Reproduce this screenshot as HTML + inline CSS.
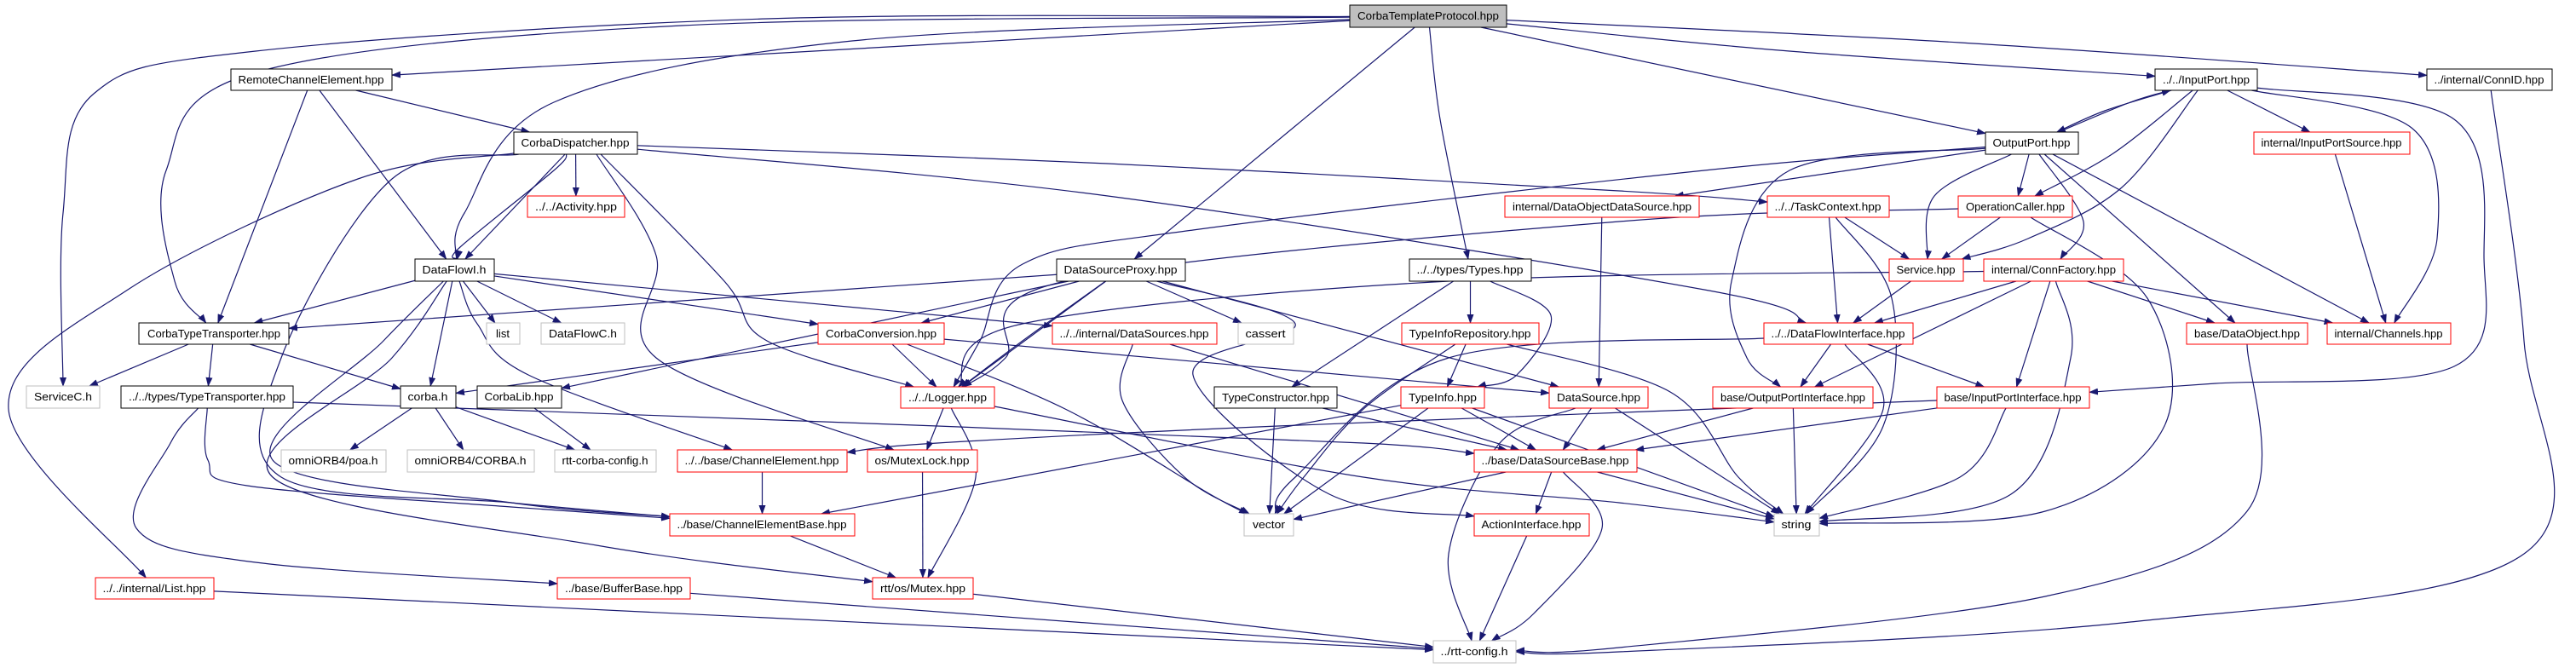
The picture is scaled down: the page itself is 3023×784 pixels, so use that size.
<!DOCTYPE html>
<html><head><meta charset="utf-8"><style>
html,body{margin:0;padding:0;background:#fff;}
svg{display:block;}
text{font-family:"Liberation Sans",Arial,sans-serif;font-size:13px;fill:#000;}
</style></head><body>
<svg id="g" width="3023" height="784" viewBox="0 0 3023 784" xmlns="http://www.w3.org/2000/svg">
<defs><marker id="a" markerWidth="11" markerHeight="8" refX="10" refY="4" orient="auto" markerUnits="userSpaceOnUse"><path d="M0,0 L11,4 L0,8 z" fill="#191970"/></marker></defs>
<g id="edges" fill="none" stroke="#191970" stroke-width="1.2"></g>
<g id="nodes">
<rect x="1584" y="6" width="184" height="26" fill="#bfbfbf" stroke="#000"/><text x="1676" y="23" text-anchor="middle" textLength="166" lengthAdjust="spacingAndGlyphs">CorbaTemplateProtocol.hpp</text>
<rect x="271" y="81" width="189" height="25" fill="#fff" stroke="#000"/><text x="365" y="98" text-anchor="middle" textLength="171" lengthAdjust="spacingAndGlyphs">RemoteChannelElement.hpp</text>
<rect x="603" y="155" width="145" height="26" fill="#fff" stroke="#000"/><text x="675" y="172" text-anchor="middle" textLength="127" lengthAdjust="spacingAndGlyphs">CorbaDispatcher.hpp</text>
<rect x="619" y="230" width="114" height="25" fill="#fff" stroke="#f00"/><text x="676" y="247" text-anchor="middle" textLength="96" lengthAdjust="spacingAndGlyphs">../../Activity.hpp</text>
<rect x="487" y="304" width="93" height="26" fill="#fff" stroke="#000"/><text x="533" y="321" text-anchor="middle" textLength="75" lengthAdjust="spacingAndGlyphs">DataFlowI.h</text>
<rect x="1240" y="304" width="151" height="26" fill="#fff" stroke="#000"/><text x="1315" y="321" text-anchor="middle" textLength="133" lengthAdjust="spacingAndGlyphs">DataSourceProxy.hpp</text>
<rect x="1654" y="304" width="143" height="26" fill="#fff" stroke="#000"/><text x="1725" y="321" text-anchor="middle" textLength="125" lengthAdjust="spacingAndGlyphs">../../types/Types.hpp</text>
<rect x="163" y="379" width="176" height="25" fill="#fff" stroke="#000"/><text x="251" y="396" text-anchor="middle" textLength="156" lengthAdjust="spacingAndGlyphs">CorbaTypeTransporter.hpp</text>
<rect x="571" y="379" width="39" height="25" fill="#fff" stroke="#bfbfbf"/><text x="590" y="396" text-anchor="middle">list</text>
<rect x="635" y="379" width="98" height="25" fill="#fff" stroke="#bfbfbf"/><text x="684" y="396" text-anchor="middle" textLength="80" lengthAdjust="spacingAndGlyphs">DataFlowC.h</text>
<rect x="960" y="379" width="148" height="25" fill="#fff" stroke="#f00"/><text x="1034" y="396" text-anchor="middle" textLength="130" lengthAdjust="spacingAndGlyphs">CorbaConversion.hpp</text>
<rect x="1235" y="379" width="193" height="25" fill="#fff" stroke="#f00"/><text x="1331" y="396" text-anchor="middle" textLength="175" lengthAdjust="spacingAndGlyphs">../../internal/DataSources.hpp</text>
<rect x="1453" y="379" width="65" height="25" fill="#fff" stroke="#bfbfbf"/><text x="1485" y="396" text-anchor="middle" textLength="47" lengthAdjust="spacingAndGlyphs">cassert</text>
<rect x="1645" y="379" width="161" height="25" fill="#fff" stroke="#f00"/><text x="1725" y="396" text-anchor="middle" textLength="143" lengthAdjust="spacingAndGlyphs">TypeInfoRepository.hpp</text>
<rect x="31" y="453" width="86" height="26" fill="#fff" stroke="#bfbfbf"/><text x="74" y="470" text-anchor="middle" textLength="68" lengthAdjust="spacingAndGlyphs">ServiceC.h</text>
<rect x="142" y="453" width="202" height="26" fill="#fff" stroke="#000"/><text x="243" y="470" text-anchor="middle" textLength="184" lengthAdjust="spacingAndGlyphs">../../types/TypeTransporter.hpp</text>
<rect x="470" y="453" width="65" height="26" fill="#fff" stroke="#000"/><text x="502" y="470" text-anchor="middle" textLength="47" lengthAdjust="spacingAndGlyphs">corba.h</text>
<rect x="560" y="453" width="99" height="26" fill="#fff" stroke="#000"/><text x="609" y="470" text-anchor="middle" textLength="81" lengthAdjust="spacingAndGlyphs">CorbaLib.hpp</text>
<rect x="1057" y="454" width="110" height="25" fill="#fff" stroke="#f00"/><text x="1112" y="471" text-anchor="middle" textLength="92" lengthAdjust="spacingAndGlyphs">../../Logger.hpp</text>
<rect x="1425" y="454" width="144" height="25" fill="#fff" stroke="#000"/><text x="1497" y="471" text-anchor="middle" textLength="126" lengthAdjust="spacingAndGlyphs">TypeConstructor.hpp</text>
<rect x="1644" y="454" width="98" height="25" fill="#fff" stroke="#f00"/><text x="1693" y="471" text-anchor="middle" textLength="80" lengthAdjust="spacingAndGlyphs">TypeInfo.hpp</text>
<rect x="1818" y="454" width="116" height="25" fill="#fff" stroke="#f00"/><text x="1876" y="471" text-anchor="middle" textLength="98" lengthAdjust="spacingAndGlyphs">DataSource.hpp</text>
<rect x="330" y="528" width="123" height="26" fill="#fff" stroke="#bfbfbf"/><text x="391" y="545" text-anchor="middle" textLength="105" lengthAdjust="spacingAndGlyphs">omniORB4/poa.h</text>
<rect x="478" y="528" width="149" height="26" fill="#fff" stroke="#bfbfbf"/><text x="552" y="545" text-anchor="middle" textLength="131" lengthAdjust="spacingAndGlyphs">omniORB4/CORBA.h</text>
<rect x="651" y="528" width="119" height="26" fill="#fff" stroke="#bfbfbf"/><text x="710" y="545" text-anchor="middle" textLength="101" lengthAdjust="spacingAndGlyphs">rtt-corba-config.h</text>
<rect x="795" y="528" width="199" height="26" fill="#fff" stroke="#f00"/><text x="894" y="545" text-anchor="middle" textLength="181" lengthAdjust="spacingAndGlyphs">../../base/ChannelElement.hpp</text>
<rect x="1018" y="528" width="129" height="26" fill="#fff" stroke="#f00"/><text x="1082" y="545" text-anchor="middle" textLength="111" lengthAdjust="spacingAndGlyphs">os/MutexLock.hpp</text>
<rect x="1730" y="528" width="191" height="26" fill="#fff" stroke="#f00"/><text x="1825" y="545" text-anchor="middle" textLength="173" lengthAdjust="spacingAndGlyphs">../base/DataSourceBase.hpp</text>
<rect x="786" y="603" width="217" height="26" fill="#fff" stroke="#f00"/><text x="894" y="620" text-anchor="middle" textLength="199" lengthAdjust="spacingAndGlyphs">../base/ChannelElementBase.hpp</text>
<rect x="1460" y="603" width="58" height="26" fill="#fff" stroke="#bfbfbf"/><text x="1489" y="620" text-anchor="middle" textLength="38" lengthAdjust="spacingAndGlyphs">vector</text>
<rect x="1730" y="603" width="135" height="26" fill="#fff" stroke="#f00"/><text x="1797" y="620" text-anchor="middle" textLength="117" lengthAdjust="spacingAndGlyphs">ActionInterface.hpp</text>
<rect x="112" y="678" width="139" height="25" fill="#fff" stroke="#f00"/><text x="181" y="695" text-anchor="middle" textLength="121" lengthAdjust="spacingAndGlyphs">../../internal/List.hpp</text>
<rect x="654" y="678" width="156" height="25" fill="#fff" stroke="#f00"/><text x="732" y="695" text-anchor="middle" textLength="138" lengthAdjust="spacingAndGlyphs">../base/BufferBase.hpp</text>
<rect x="1024" y="678" width="118" height="25" fill="#fff" stroke="#f00"/><text x="1083" y="695" text-anchor="middle" textLength="100" lengthAdjust="spacingAndGlyphs">rtt/os/Mutex.hpp</text>
<rect x="1682" y="752" width="97" height="26" fill="#fff" stroke="#bfbfbf"/><text x="1730" y="769" text-anchor="middle" textLength="79" lengthAdjust="spacingAndGlyphs">../rtt-config.h</text>
<rect x="2529" y="81" width="120" height="25" fill="#fff" stroke="#000"/><text x="2589" y="98" text-anchor="middle" textLength="102" lengthAdjust="spacingAndGlyphs">../../InputPort.hpp</text>
<rect x="2848" y="81" width="147" height="25" fill="#fff" stroke="#000"/><text x="2921" y="98" text-anchor="middle" textLength="129" lengthAdjust="spacingAndGlyphs">../internal/ConnID.hpp</text>
<rect x="2330" y="155" width="109" height="26" fill="#fff" stroke="#000"/><text x="2384" y="172" text-anchor="middle" textLength="91" lengthAdjust="spacingAndGlyphs">OutputPort.hpp</text>
<rect x="2645" y="155" width="183" height="26" fill="#fff" stroke="#f00"/><text x="2736" y="172" text-anchor="middle" textLength="165" lengthAdjust="spacingAndGlyphs">internal/InputPortSource.hpp</text>
<rect x="1766" y="230" width="228" height="25" fill="#fff" stroke="#f00"/><text x="1880" y="247" text-anchor="middle" textLength="210" lengthAdjust="spacingAndGlyphs">internal/DataObjectDataSource.hpp</text>
<rect x="2074" y="230" width="143" height="25" fill="#fff" stroke="#f00"/><text x="2145" y="247" text-anchor="middle" textLength="125" lengthAdjust="spacingAndGlyphs">../../TaskContext.hpp</text>
<rect x="2298" y="230" width="134" height="25" fill="#fff" stroke="#f00"/><text x="2365" y="247" text-anchor="middle" textLength="116" lengthAdjust="spacingAndGlyphs">OperationCaller.hpp</text>
<rect x="2217" y="304" width="87" height="26" fill="#fff" stroke="#f00"/><text x="2260" y="321" text-anchor="middle" textLength="69" lengthAdjust="spacingAndGlyphs">Service.hpp</text>
<rect x="2328" y="304" width="164" height="26" fill="#fff" stroke="#f00"/><text x="2410" y="321" text-anchor="middle" textLength="146" lengthAdjust="spacingAndGlyphs">internal/ConnFactory.hpp</text>
<rect x="2070" y="379" width="175" height="25" fill="#fff" stroke="#f00"/><text x="2157" y="396" text-anchor="middle" textLength="157" lengthAdjust="spacingAndGlyphs">../../DataFlowInterface.hpp</text>
<rect x="2566" y="379" width="142" height="25" fill="#fff" stroke="#f00"/><text x="2637" y="396" text-anchor="middle" textLength="124" lengthAdjust="spacingAndGlyphs">base/DataObject.hpp</text>
<rect x="2731" y="379" width="145" height="25" fill="#fff" stroke="#f00"/><text x="2803" y="396" text-anchor="middle" textLength="127" lengthAdjust="spacingAndGlyphs">internal/Channels.hpp</text>
<rect x="2010" y="454" width="188" height="25" fill="#fff" stroke="#f00"/><text x="2104" y="471" text-anchor="middle" textLength="170" lengthAdjust="spacingAndGlyphs">base/OutputPortInterface.hpp</text>
<rect x="2273" y="454" width="179" height="25" fill="#fff" stroke="#f00"/><text x="2362" y="471" text-anchor="middle" textLength="161" lengthAdjust="spacingAndGlyphs">base/InputPortInterface.hpp</text>
<rect x="2082" y="603" width="53" height="26" fill="#fff" stroke="#bfbfbf"/><text x="2108" y="620" text-anchor="middle" textLength="35" lengthAdjust="spacingAndGlyphs">string</text>
</g>
</svg>
<script>
var N={CTP:[1584,6,1768,32],RCE:[271,81,460,106],CD:[603,155,748,181],ACT:[619,230,733,255],DFI:[487,304,580,330],CTT:[163,379,339,404],LIST:[571,379,610,404],DFC:[635,379,733,404],CCONV:[960,379,1108,404],DSS:[1235,379,1428,404],CASS:[1453,379,1518,404],TIR:[1645,379,1806,404],SVC:[31,453,117,479],TT:[142,453,344,479],CORBA:[470,453,535,479],CLIB:[560,453,659,479],LOG:[1057,454,1167,479],TC:[1425,454,1569,479],TI:[1644,454,1742,479],DS:[1818,454,1934,479],POA:[330,528,453,554],CORBAH:[478,528,627,554],RCC:[651,528,770,554],CE:[795,528,994,554],ML:[1018,528,1147,554],DSB:[1730,528,1921,554],CEB:[786,603,1003,629],VEC:[1460,603,1518,629],AI:[1730,603,1865,629],LISTH:[112,678,251,703],BB:[654,678,810,703],MUTEX:[1024,678,1142,703],CFG:[1682,752,1779,778],IP:[2529,81,2649,106],CID:[2848,81,2995,106],OP:[2330,155,2439,181],IPS:[2645,155,2828,181],DODS:[1766,230,1994,255],TCX:[2074,230,2217,255],OC:[2298,230,2432,255],SRV:[2217,304,2304,330],CF:[2328,304,2492,330],DFIF:[2070,379,2245,404],DO:[2566,379,2708,404],CH:[2731,379,2876,404],OPI:[2010,454,2198,479],IPI:[2273,454,2452,479],STR:[2082,603,2135,629],DSPX:[1240,304,1391,330],TYP:[1654,304,1797,330]};
function ctr(b){return[(b[0]+b[2])/2,(b[1]+b[3])/2];}
function clip(b,p){var c=ctr(b),dx=p[0]-c[0],dy=p[1]-c[1],hw=(b[2]-b[0])/2,hh=(b[3]-b[1])/2;var t=Math.min(dx?hw/Math.abs(dx):1e9,dy?hh/Math.abs(dy):1e9);return[c[0]+dx*t,c[1]+dy*t];}
var E=[
['CTP','SVC',[[900,22],[300,60],[110,110],[74,250]]],
['CTP','CTT',[[800,30],[300,85],[195,200],[205,330]]],
['CTP','DFI',[[1000,48],[650,120],[545,250]]],
['CTP','RCE'],['CTP','DSPX'],
['CTP','TYP',[[1690,140]]],
['CTP','OP'],['CTP','IP',[[2100,60]]],['CTP','CID',[[2300,50]]],
['RCE','CD'],['RCE','DFI'],['RCE','CTT'],
['CD','LISTH',[[420,210],[150,340],[10,480]]],
['CD','CEB',[[460,210],[330,420],[330,560],[600,590]]],
['CD','DFI',[[650,200],[540,290]]],['CD','DFI'],['CD','ACT'],
['CD','ML',[[700,181],[770,300],[770,420]]],
['CD','LOG',[[705,181],[850,330],[900,400]]],
['CD','TCX',[[1300,192],[1900,224]]],
['CD','DFIF',[[1300,230],[2000,340]]],
['DFI','CTT'],['DFI','CORBA'],['DFI','LIST'],['DFI','DFC'],['DFI','CCONV'],['DFI','DSS'],
['DFI','CEB',[[450,400],[320,540],[600,590]]],
['DFI','CE',[[560,380],[620,440]]],
['DFI','MUTEX',[[460,420],[320,560],[700,640]]],
['CTT','SVC'],['CTT','TT'],['CTT','CORBA'],
['TT','CEB',[[244,540],[290,570],[600,595]]],
['TT','BB',[[200,520],[160,620],[300,660]]],
['TT','DSB',[[344,472],[1100,500],[1600,520]]],
['CORBA','POA'],['CORBA','CORBAH'],['CORBA','RCC'],['CLIB','RCC'],
['CE','CEB'],['CEB','MUTEX'],
['LISTH','CFG'],['BB','CFG'],['MUTEX','CFG'],
['ML','MUTEX'],['LOG','ML'],['LOG','MUTEX',[[1145,560]]],['LOG','STR',[[1600,560],[1900,590]]],
['CCONV','LOG'],['CCONV','VEC',[[1250,480],[1420,580]]],['CCONV','CORBA'],['CCONV','DS'],
['DSPX','CTT'],['DSPX','CCONV'],['DSPX','LOG'],['DSPX','LOG',[[1200,400]]],['DSPX','CASS'],['DSPX','CLIB'],['DSPX','DS'],
['DSPX','AI',[[1520,380],[1400,440],[1560,580]]],
['DSS','VEC',[[1317,470],[1390,560]]],['DSS','DSB'],
['TYP','TIR'],['TYP','TC'],['TYP','TI',[[1820,370],[1780,440]]],
['TIR','TI'],['TIR','VEC',[[1600,480],[1530,560]]],['TIR','STR',[[1960,460],[2040,560]]],
['TC','VEC'],['TC','DSB'],
['TI','VEC'],['TI','DSB'],['TI','CEB'],['TI','STR'],
['DS','DSB'],['DS','CFG',[[1760,520],[1700,650]]],['DS','STR'],
['DSB','VEC'],['DSB','AI'],['DSB','CFG',[[1880,620],[1800,720]]],['DSB','STR'],
['AI','CFG'],['DODS','DS'],
['IP','OP',[[2470,130]]],['OP','IP',[[2500,120]]],['IP','IPS'],
['IP','CH',[[2830,150],[2860,280]]],['IP','OC',[[2480,180]]],['IP','SRV',[[2490,220],[2380,280]]],
['IP','IPI',[[2880,140],[2915,300],[2880,430],[2600,450]]],
['OP','DODS',[[2000,225]]],['OP','LOG',[[2000,200],[1400,270],[1200,310],[1150,400]]],
['OP','OPI',[[2100,200],[2032,330],[2050,420]]],
['OP','OC'],['OP','SRV',[[2270,230]]],['OP','CF',[[2445,260]]],['OP','DO'],['OP','CH'],
['TCX','SRV'],['TCX','DFIF'],['TCX','STR',[[2220,350],[2210,500]]],
['OC','SRV'],['OC','LOG',[[1900,260],[1250,330],[1180,420]]],['OC','STR',[[2520,350],[2540,500],[2400,600]]],
['SRV','DFIF'],
['CF','DFIF'],['CF','LOG',[[1700,330],[1200,380]]],['CF','OPI'],['CF','IPI'],['CF','STR',[[2430,420],[2360,580]]],['CF','DO'],['CF','CH'],
['DFIF','OPI'],['DFIF','IPI'],['DFIF','STR',[[2210,480]]],['DFIF','VEC',[[1700,420],[1520,560]]],
['OPI','DSB'],['OPI','STR'],
['IPI','DSB'],['IPI','CE',[[1500,500],[1100,520]]],['IPI','STR',[[2300,560]]],
['DO','CFG',[[2637,600],[2400,700],[1900,760]]],
['CID','CFG',[[2962,400],[2962,650],[2500,730],[1900,765]]],
['IPS','CH']
];
var g=document.getElementById('edges'),ns='http://www.w3.org/2000/svg';
function cr(P){var d='M'+P[0][0].toFixed(1)+','+P[0][1].toFixed(1);for(var i=0;i<P.length-1;i++){var p0=P[i-1]||P[i],p1=P[i],p2=P[i+1],p3=P[i+2]||p2;var c1=[p1[0]+(p2[0]-p0[0])/6,p1[1]+(p2[1]-p0[1])/6],c2=[p2[0]-(p3[0]-p1[0])/6,p2[1]-(p3[1]-p1[1])/6];d+=' C'+c1[0].toFixed(1)+','+c1[1].toFixed(1)+' '+c2[0].toFixed(1)+','+c2[1].toFixed(1)+' '+p2[0].toFixed(1)+','+p2[1].toFixed(1);}return d;}
E.forEach(function(e){var a=N[e[0]],b=N[e[1]],w=e[2]||[];if(!a||!b)return;var p1=w.length?w[0]:ctr(b),pn=w.length?w[w.length-1]:ctr(a);var s=clip(a,p1),t=clip(b,pn);var P=[s].concat(w,[t]);var el=document.createElementNS(ns,'path');el.setAttribute('d',P.length==2?'M'+s[0]+','+s[1]+' L'+t[0]+','+t[1]:cr(P));el.setAttribute('marker-end','url(#a)');g.appendChild(el);});
</script>
</body></html>
